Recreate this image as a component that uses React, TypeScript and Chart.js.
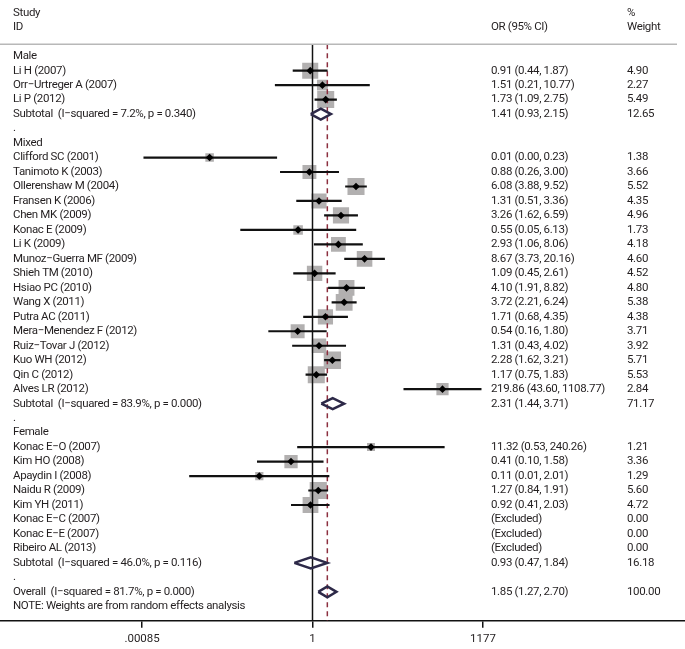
import React, { useEffect, useRef } from "react";
import { Chart, registerables } from "chart.js";

Chart.register(...registerables);

// ---------- data ----------
const groupNames = ["Male", "Mixed", "Female"];

const studyNames = [
  "Li H (2007)", "Orr−Urtreger A (2007)", "Li P (2012)",
  "Clifford SC (2001)", "Tanimoto K (2003)", "Ollerenshaw M (2004)", "Fransen K (2006)",
  "Chen MK (2009)", "Konac E (2009)", "Li K (2009)", "Munoz−Guerra MF (2009)",
  "Shieh TM (2010)", "Hsiao PC (2010)", "Wang X (2011)", "Putra AC (2011)",
  "Mera−Menendez F (2012)", "Ruiz−Tovar J (2012)", "Kuo WH (2012)", "Qin C (2012)",
  "Alves LR (2012)",
  "Konac E−O (2007)", "Kim HO (2008)", "Apaydin I (2008)", "Naidu R (2009)",
  "Kim YH (2011)", "Konac E−C (2007)", "Konac E−E (2007)", "Ribeiro AL (2013)",
];
const studyGroup = [
  0, 0, 0,
  1, 1, 1, 1, 1, 1, 1, 1, 1, 1, 1, 1, 1, 1, 1, 1, 1,
  2, 2, 2, 2, 2, 2, 2, 2,
];
const studyOR = [
  0.91, 1.51, 1.73,
  0.014, 0.88, 6.08, 1.31, 3.26, 0.55, 2.93, 8.67, 1.09, 4.10, 3.72, 1.71, 0.54, 1.31, 2.28, 1.17, 219.86,
  11.32, 0.41, 0.11, 1.27, 0.92, null, null, null,
];
const studyLow = [
  0.44, 0.21, 1.09,
  0.0009, 0.26, 3.88, 0.51, 1.62, 0.05, 1.06, 3.73, 0.45, 1.91, 2.21, 0.68, 0.16, 0.43, 1.62, 0.75, 43.60,
  0.53, 0.10, 0.006, 0.84, 0.41, null, null, null,
];
const studyHigh = [
  1.87, 10.77, 2.75,
  0.23, 3.00, 9.52, 3.36, 6.59, 6.13, 8.06, 20.16, 2.61, 8.82, 6.24, 4.35, 1.80, 4.02, 3.21, 1.83, 1108.77,
  240.26, 1.58, 2.01, 1.91, 2.03, null, null, null,
];
const studyWeight = [
  4.90, 2.27, 5.49,
  1.38, 3.66, 5.52, 4.35, 4.96, 1.73, 4.18, 4.60, 4.52, 4.80, 5.38, 4.38, 3.71, 3.92, 5.71, 5.53, 2.84,
  1.21, 3.36, 1.29, 5.60, 4.72, 0.00, 0.00, 0.00,
];

const subtotalLabels = [
  "Subtotal  (I−squared = 7.2%, p = 0.340)",
  "Subtotal  (I−squared = 83.9%, p = 0.000)",
  "Subtotal  (I−squared = 46.0%, p = 0.116)",
];
const subtotalOR = [1.41, 2.31, 0.93];
const subtotalLow = [0.93, 1.44, 0.47];
const subtotalHigh = [2.15, 3.71, 1.84];
const subtotalWeight = [12.65, 71.17, 16.18];

const overallLabel = "Overall  (I−squared = 81.7%, p = 0.000)";
const overallOR = 1.85;
const overallLow = 1.27;
const overallHigh = 2.70;
const overallWeight = 100.0;

const noteText = "NOTE: Weights are from random effects analysis";

const tickValues = [0.00085, 1, 1177];
const tickLabels = [".00085", "1", "1177"];

// ---------- styling ----------
const FONT_FAMILY = "Roboto";
const FONT = `11.5px ${FONT_FAMILY}`;
const LETTER_SPACING = "-0.35px";
const TEXT_COLOR = "#231f20";
const SQUARE_COLOR = "#b2b0b0";
const DIAMOND_COLOR = "#2d2948";
const DASH_COLOR = "#8c2f3f";

const X_MIN = 2.34e-6;
const X_MAX = 5.15e6;
const Y_MIN = -3.881;
const Y_MAX = 38.992;
const SEP_ROW = -0.82;
const DIAMOND_HALF = 0.38;
const SQUARE_SCALE = 5.13;

const COL_LABEL = 13;
const COL_OR = 491;
const COL_WEIGHT = 627;

type Row = {
  kind: "group" | "study" | "subtotal" | "blank" | "overall";
  label: string;
  or?: number | null;
  lo?: number | null;
  hi?: number | null;
  w?: number;
};

function buildRows(): Row[] {
  const rows: Row[] = [];
  groupNames.forEach((g, gi) => {
    rows.push({ kind: "group", label: g });
    studyNames.forEach((name, si) => {
      if (studyGroup[si] !== gi) return;
      rows.push({
        kind: "study",
        label: name,
        or: studyOR[si],
        lo: studyLow[si],
        hi: studyHigh[si],
        w: studyWeight[si],
      });
    });
    rows.push({
      kind: "subtotal",
      label: subtotalLabels[gi],
      or: subtotalOR[gi],
      lo: subtotalLow[gi],
      hi: subtotalHigh[gi],
      w: subtotalWeight[gi],
    });
    rows.push({ kind: "blank", label: "." });
  });
  rows.push({
    kind: "overall",
    label: overallLabel,
    or: overallOR,
    lo: overallLow,
    hi: overallHigh,
    w: overallWeight,
  });
  return rows;
}

const fmt = (v: number) => v.toFixed(2);

export default function App() {
  const canvasRef = useRef<HTMLCanvasElement | null>(null);

  useEffect(() => {
    const canvas = canvasRef.current;
    if (!canvas) return;
    const rows = buildRows();

    const datasets: any[] = [];

    // study point markers (top)
    const pts: any[] = [];
    const squares: any[] = [];
    const squareRadii: number[] = [];
    rows.forEach((r, i) => {
      if (r.kind === "study" && r.or != null) {
        pts.push({ x: r.or, y: i });
        squares.push({ x: r.or, y: i });
        squareRadii.push(SQUARE_SCALE * Math.sqrt(r.w || 0));
      }
    });
    datasets.push({
      data: pts,
      pointStyle: "rectRot",
      pointRadius: 3.8,
      pointBackgroundColor: "#000",
      pointBorderWidth: 0,
      showLine: false,
      order: 0,
    });

    // confidence interval lines
    rows.forEach((r, i) => {
      if (r.kind === "study" && r.or != null && r.lo != null && r.hi != null) {
        datasets.push({
          data: [
            { x: r.lo, y: i },
            { x: r.hi, y: i },
          ],
          showLine: true,
          borderColor: "#111",
          borderWidth: 2.2,
          pointRadius: 0,
          order: 1,
        });
      }
    });

    // pooled diamonds
    rows.forEach((r, i) => {
      if ((r.kind === "subtotal" || r.kind === "overall") && r.or != null) {
        datasets.push({
          data: [
            { x: r.lo, y: i },
            { x: r.or, y: i - DIAMOND_HALF },
            { x: r.hi, y: i },
            { x: r.or, y: i + DIAMOND_HALF },
            { x: r.lo, y: i },
          ],
          showLine: true,
          borderColor: DIAMOND_COLOR,
          borderWidth: 2.5,
          borderJoinStyle: "miter",
          pointRadius: 0,
          tension: 0,
          order: 2,
        });
      }
    });

    // dashed overall reference line
    datasets.push({
      data: [
        { x: overallOR, y: SEP_ROW },
        { x: overallOR, y: Y_MAX },
      ],
      showLine: true,
      borderColor: DASH_COLOR,
      borderWidth: 1.5,
      borderDash: [5, 4],
      pointRadius: 0,
      order: 3,
    });

    // null line at OR = 1
    datasets.push({
      data: [
        { x: 1, y: SEP_ROW },
        { x: 1, y: Y_MAX },
      ],
      showLine: true,
      borderColor: "#111",
      borderWidth: 1.5,
      pointRadius: 0,
      order: 4,
    });

    // weight squares (bottom)
    datasets.push({
      data: squares,
      pointStyle: "rect",
      pointRadius: squareRadii,
      pointBackgroundColor: SQUARE_COLOR,
      pointBorderWidth: 0,
      showLine: false,
      order: 10,
    });

    const textPlugin = {
      id: "forestText",
      afterDraw(chart: any) {
        const ctx = chart.ctx as any;
        const ys = chart.scales.y;
        ctx.save();
        ctx.font = FONT;
        ctx.letterSpacing = LETTER_SPACING;
        ctx.fillStyle = TEXT_COLOR;
        ctx.textBaseline = "middle";
        ctx.textAlign = "left";

        const yStudy = ys.getPixelForValue(-3);
        const yId = ys.getPixelForValue(-2);
        ctx.fillText("Study", COL_LABEL, yStudy);
        ctx.fillText("ID", COL_LABEL, yId);
        ctx.fillText("OR (95% CI)", COL_OR, yId);
        ctx.fillText("%", COL_WEIGHT, yStudy);
        ctx.fillText("Weight", COL_WEIGHT, yId);

        rows.forEach((r, i) => {
          const py = ys.getPixelForValue(i);
          ctx.fillText(r.label, COL_LABEL, py);
          if (r.kind === "study" || r.kind === "subtotal" || r.kind === "overall") {
            const orText =
              r.or == null
                ? "(Excluded)"
                : `${fmt(r.or)} (${fmt(r.lo as number)}, ${fmt(r.hi as number)})`;
            ctx.fillText(orText, COL_OR, py);
            ctx.fillText(fmt(r.w || 0), COL_WEIGHT, py);
          }
        });
        ctx.fillText(noteText, COL_LABEL, ys.getPixelForValue(rows.length));

        // header separator
        const sy = ys.getPixelForValue(SEP_ROW);
        ctx.strokeStyle = "#b8b8b8";
        ctx.lineWidth = 1.5;
        ctx.beginPath();
        ctx.moveTo(0, sy);
        ctx.lineTo(677, sy);
        ctx.stroke();
        ctx.restore();
      },
    };

    const chart = new Chart(canvas, {
      type: "scatter",
      data: { datasets },
      options: {
        animation: false,
        responsive: false,
        events: [],
        layout: { padding: { top: 0, left: 0, right: 0, bottom: -2.3 }, autoPadding: false },
        plugins: {
          legend: { display: false },
          tooltip: { enabled: false },
        },
        scales: {
          x: {
            type: "logarithmic",
            min: X_MIN,
            max: X_MAX,
            bounds: "data",
            afterBuildTicks: (scale: any) => {
              scale.ticks = tickValues.map((v) => ({ value: v }));
            },
            ticks: {
              autoSkip: false,
              maxRotation: 0,
              padding: 4.9,
              color: TEXT_COLOR,
              font: { family: FONT_FAMILY, size: 11.5 },
              callback: (_v: any, idx: number) => tickLabels[idx],
            },
            grid: {
              drawOnChartArea: false,
              drawTicks: true,
              tickLength: 7,
              color: "#111",
              lineWidth: 1.5,
            },
            border: { display: true, color: "#111", width: 1.5 },
          },
          y: {
            type: "linear",
            min: Y_MIN,
            max: Y_MAX,
            bounds: "data",
            reverse: true,
            display: false,
          },
        },
      } as any,
      plugins: [textPlugin],
    });

    return () => chart.destroy();
  }, []);

  return (
    <div style={{ position: "absolute", left: 0, top: 0, width: 685, height: 649, background: "#fff" }}>
      <canvas ref={canvasRef} width={685} height={649} style={{ display: "block" }} />
    </div>
  );
}
